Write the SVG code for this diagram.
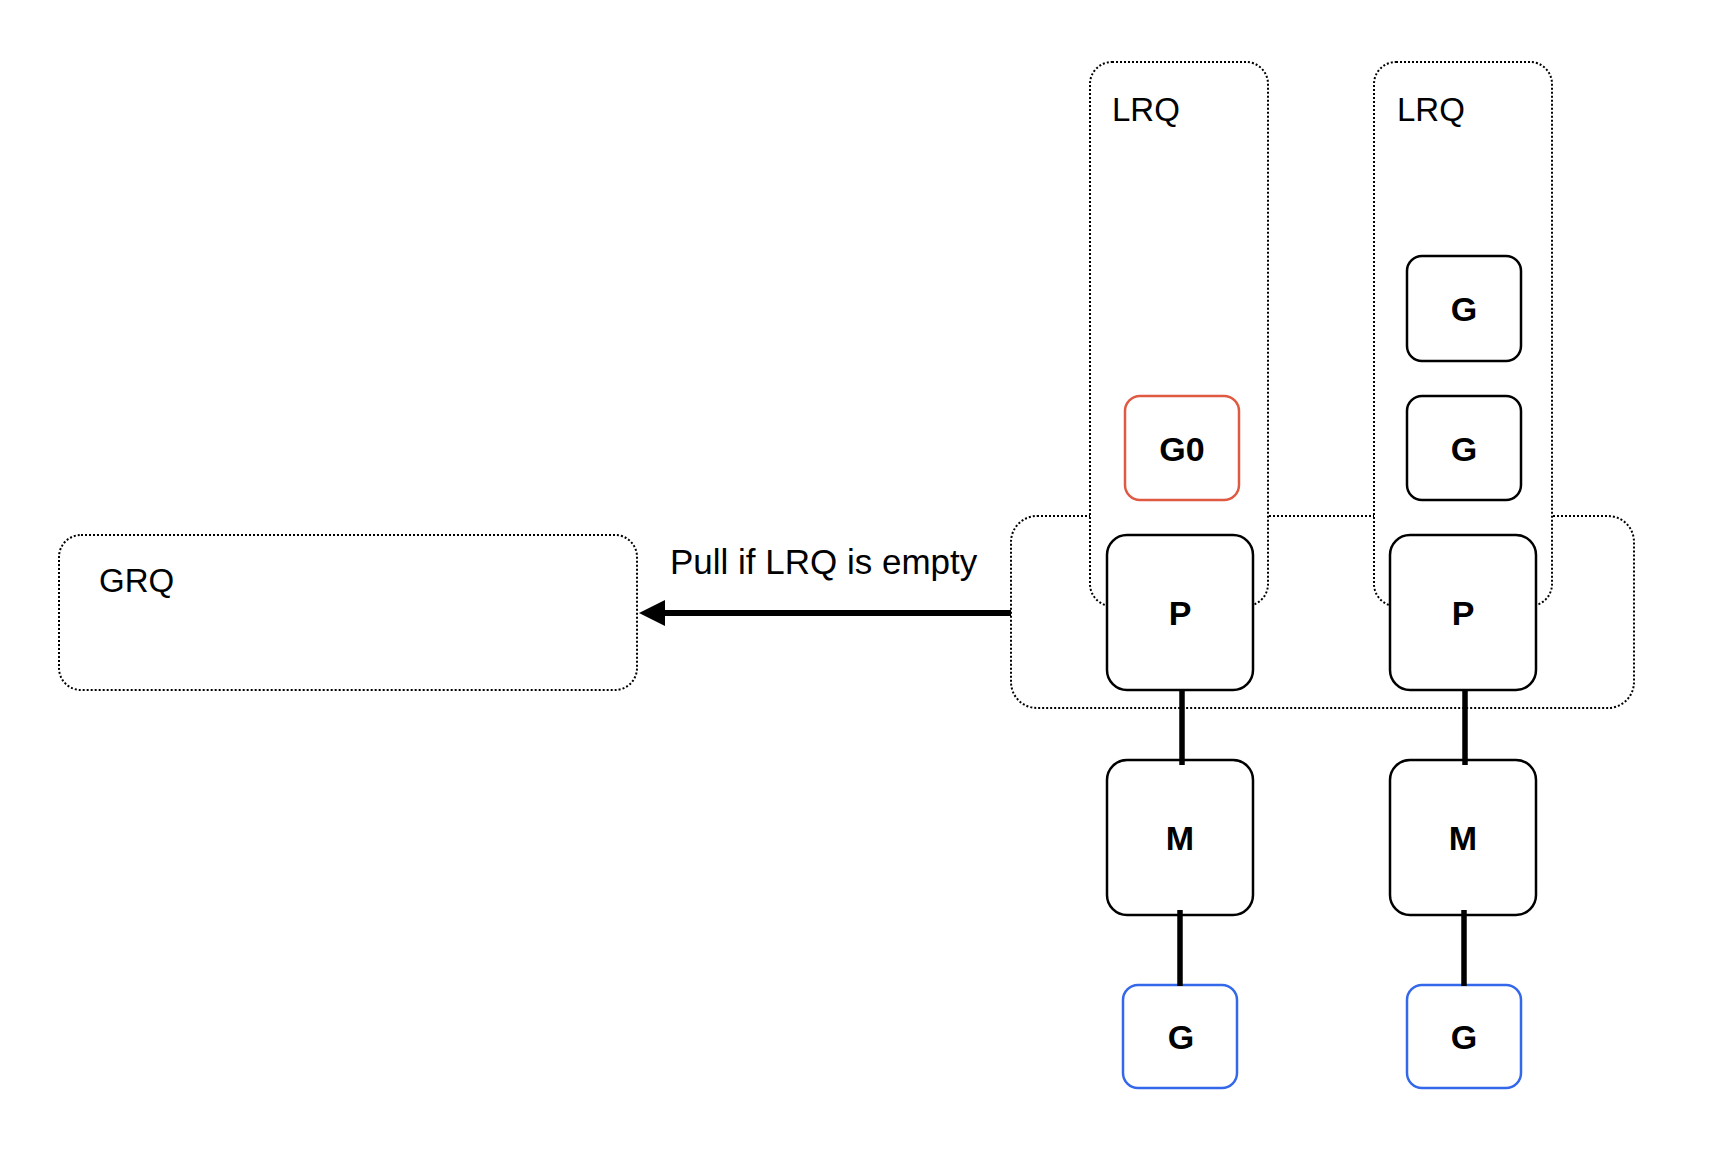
<svg xmlns="http://www.w3.org/2000/svg" width="1718" height="1174" viewBox="0 0 1718 1174">
<style>
.dot{fill:#fff;stroke:#000;stroke-width:2;stroke-dasharray:2 2}
.box{fill:#fff;stroke:#000;stroke-width:2.5}
.red{fill:#fff;stroke:#e05a43;stroke-width:2.5}
.blue{fill:#fff;stroke:#3468ea;stroke-width:2.5}
.lbl{font-family:"Liberation Sans",Arial,sans-serif;font-size:33px;fill:#000}
.nl{font-family:"Liberation Sans",Arial,sans-serif;font-size:34px;font-weight:bold;fill:#000;text-anchor:middle}
.con{stroke:#000;stroke-width:5.5;fill:none}
</style>
<defs>
<marker id="ah" markerUnits="userSpaceOnUse" markerWidth="26" markerHeight="26" refX="5" refY="13" orient="auto">
<path d="M0,0 L26,13 L0,26 z" fill="#000"/>
</marker>
</defs>
<rect width="1718" height="1174" fill="#fff"/>
<g id="grq">
<rect class="dot" x="59" y="535" width="578" height="155" rx="22"/>
<text class="lbl" x="99" y="592">GRQ</text>
</g>
<g id="pgroup">
<rect class="dot" x="1011" y="516" width="623" height="192" rx="26"/>
</g>
<g id="lrq1">
<rect class="dot" x="1090" y="62" width="178" height="544" rx="22"/>
<text class="lbl" x="1112" y="121">LRQ</text>
</g>
<g id="lrq2">
<rect class="dot" x="1374" y="62" width="178" height="544" rx="22"/>
<text class="lbl" x="1397" y="121">LRQ</text>
</g>
<g id="g0">
<rect class="red" x="1125" y="396" width="114" height="104" rx="15"/>
<text class="nl" x="1182" y="461">G0</text>
</g>
<g id="g_r1">
<rect class="box" x="1407" y="256" width="114" height="105" rx="15"/>
<text class="nl" x="1464" y="321">G</text>
</g>
<g id="g_r2">
<rect class="box" x="1407" y="396" width="114" height="104" rx="15"/>
<text class="nl" x="1464" y="461">G</text>
</g>
<g id="p1">
<rect class="box" x="1107" y="535" width="146" height="155" rx="20"/>
<text class="nl" x="1180" y="625">P</text>
</g>
<g id="p2">
<rect class="box" x="1390" y="535" width="146" height="155" rx="20"/>
<text class="nl" x="1463" y="625">P</text>
</g>
<g id="m1">
<rect class="box" x="1107" y="760" width="146" height="155" rx="20"/>
<text class="nl" x="1180" y="850">M</text>
</g>
<g id="m2">
<rect class="box" x="1390" y="760" width="146" height="155" rx="20"/>
<text class="nl" x="1463" y="850">M</text>
</g>
<g id="g_b1">
<rect class="blue" x="1123" y="985" width="114" height="103" rx="15"/>
<text class="nl" x="1181" y="1049">G</text>
</g>
<g id="g_b2">
<rect class="blue" x="1407" y="985" width="114" height="103" rx="15"/>
<text class="nl" x="1464" y="1049">G</text>
</g>
<g id="connectors">
<line class="con" x1="1182" y1="690" x2="1182" y2="765"/>
<line class="con" x1="1465" y1="690" x2="1465" y2="765"/>
<line class="con" x1="1180" y1="910" x2="1180" y2="986"/>
<line class="con" x1="1464" y1="910" x2="1464" y2="986"/>
<line x1="1011" y1="613" x2="660" y2="613" stroke="#000" stroke-width="6" marker-end="url(#ah)"/>
<text class="lbl" x="670" y="574" style="font-size:35px">Pull if LRQ is empty</text>
</g>
</svg>
